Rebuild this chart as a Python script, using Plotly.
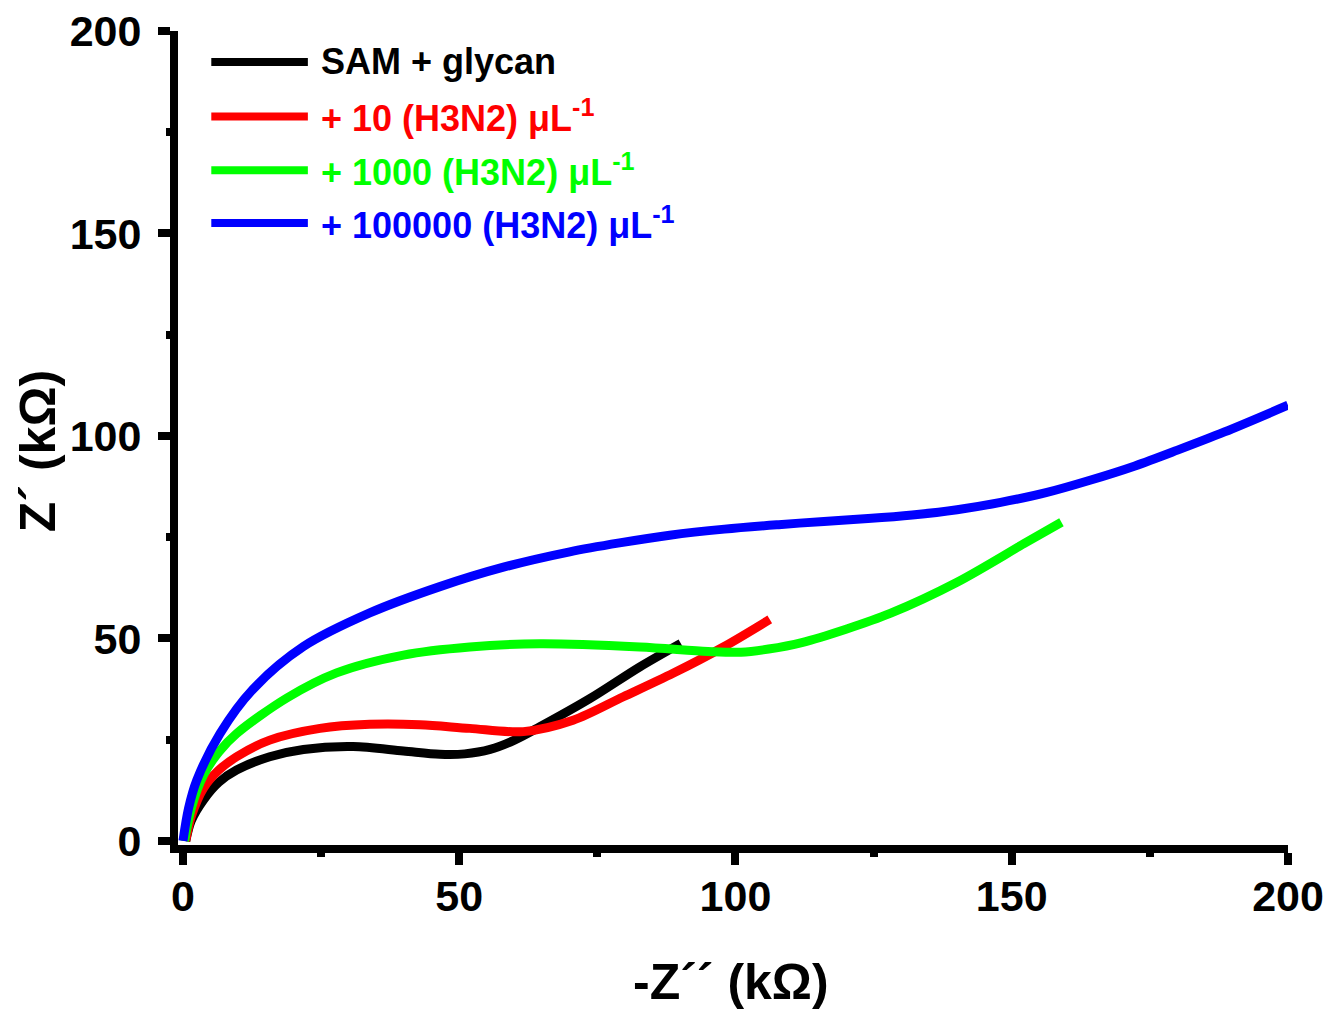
import plotly.graph_objects as go

# ---- data ----
series_names = [
    "SAM + glycan",
    "+ 10 (H3N2) μL<sup>-1</sup>",
    "+ 1000 (H3N2) μL<sup>-1</sup>",
    "+ 100000 (H3N2) μL<sup>-1</sup>",
]
series_colors = ["#000000", "#ff0000", "#00ff00", "#0000ff"]

black_x = [0.5, 1.5, 3.7, 6.5, 9.7, 15.7, 21.8, 30.8, 39.9, 46.5, 51.0, 55.6, 60.0, 64.6, 73.7, 82.7, 90.1]
black_y = [0.0, 5.0, 10.1, 14.5, 17.5, 20.8, 22.6, 23.3, 22.2, 21.4, 21.5, 22.6, 24.9, 28.2, 35.2, 43.0, 48.8]

red_x = [0.5, 1.5, 3.7, 6.5, 9.7, 15.7, 24.8, 33.8, 42.9, 51.9, 61.6, 70.6, 79.7, 88.7, 97.8, 106.2]
red_y = [0.0, 6.0, 13.0, 17.5, 20.8, 24.9, 27.8, 28.8, 28.7, 27.8, 27.0, 29.8, 35.6, 41.4, 47.9, 54.7]

green_x = [0.3, 1.5, 3.7, 6.5, 9.7, 18.8, 27.8, 39.9, 51.9, 64.6, 82.7, 95.0, 101.0, 106.0, 112.0, 120.0, 128.0, 140.1, 152.2, 159.0]
green_y = [0.0, 8.0, 16.2, 22.0, 26.5, 35.3, 41.5, 45.9, 47.9, 48.7, 47.9, 46.8, 46.6, 47.4, 49.0, 52.3, 56.2, 63.9, 73.4, 78.7]

blue_x = [0.0, 1.0, 2.5, 6.7, 12.7, 21.8, 33.8, 46.5, 58.0, 70.0, 79.0, 88.1, 98.0, 107.8, 116.0, 124.0, 132.0, 140.1, 148.0, 156.2, 164.0, 172.3, 180.0, 188.5, 200.0]
blue_y = [0.0, 8.0, 15.0, 26.5, 37.5, 48.0, 56.3, 62.8, 67.6, 71.4, 73.6, 75.5, 77.0, 78.1, 78.9, 79.6, 80.5, 81.8, 83.6, 86.0, 89.0, 92.6, 96.5, 101.0, 107.6]

x_ticks = [0, 50, 100, 150, 200]
y_ticks = [0, 50, 100, 150, 200]

FONT = "Liberation Sans, Arial, sans-serif"

fig = go.Figure()
for xs, ys, name, col in zip(
    [black_x, red_x, green_x, blue_x],
    [black_y, red_y, green_y, blue_y],
    series_names,
    series_colors,
):
    fig.add_trace(go.Scatter(
        x=xs, y=ys, mode="lines", name=name,
        line=dict(color=col, width=9, shape="spline", smoothing=0.9),
        showlegend=False,
    ))

# manual legend (long line samples + coloured text) in paper coordinates
leg_y = [0.962, 0.895, 0.829, 0.764]
for name, col, yy in zip(series_names, series_colors, leg_y):
    fig.add_shape(type="line", xref="paper", yref="paper",
                  x0=0.030, x1=0.117, y0=yy, y1=yy,
                  line=dict(color=col, width=8))
    fig.add_annotation(xref="paper", yref="paper", x=0.127, y=yy,
                       text="<b>" + name + "</b>", showarrow=False,
                       xanchor="left", yanchor="middle",
                       font=dict(family=FONT, size=36, color=col))

# axis titles
fig.add_annotation(xref="paper", yref="paper", x=0.498, y=-0.168,
                   text="<b>-Z´´ (kΩ)</b>", showarrow=False,
                   xanchor="center", yanchor="middle", borderpad=0,
                   font=dict(family=FONT, size=50, color="black"))
fig.add_annotation(xref="paper", yref="paper", x=-0.126, y=0.484,
                   text="<b>Z´ (kΩ)</b>", showarrow=False, textangle=-90,
                   xanchor="center", yanchor="middle", borderpad=0,
                   font=dict(family=FONT, size=50, color="black"))

axis_common = dict(
    showline=True, linecolor="black", linewidth=8,
    ticks="outside", ticklen=12, tickwidth=8, tickcolor="black",
    showgrid=False, zeroline=False, automargin=False,
    ticklabeloverflow="allow",
    tickfont=dict(family=FONT, size=43, color="black", weight="bold"),
    minor=dict(ticks="outside", ticklen=4, tickwidth=8, tickcolor="black", dtick=25),
)

fig.update_xaxes(
    range=[-0.9, 200], tickvals=x_ticks, ticktext=[str(v) for v in x_ticks],
    ticklabelstandoff=-6,
    **axis_common,
)
fig.update_yaxes(
    range=[-1.0, 200], tickvals=y_ticks, ticktext=[str(v) for v in y_ticks],
    ticklabelstandoff=8,
    **axis_common,
)

# page body has an 8px margin; figure is sized so the plot lands where the reference has it
fig.update_layout(
    width=1335, height=1003,
    margin=dict(l=170, r=55, t=23, b=166),
    plot_bgcolor="white", paper_bgcolor="white",
    showlegend=False,
)

fig.write_html("out.html")
